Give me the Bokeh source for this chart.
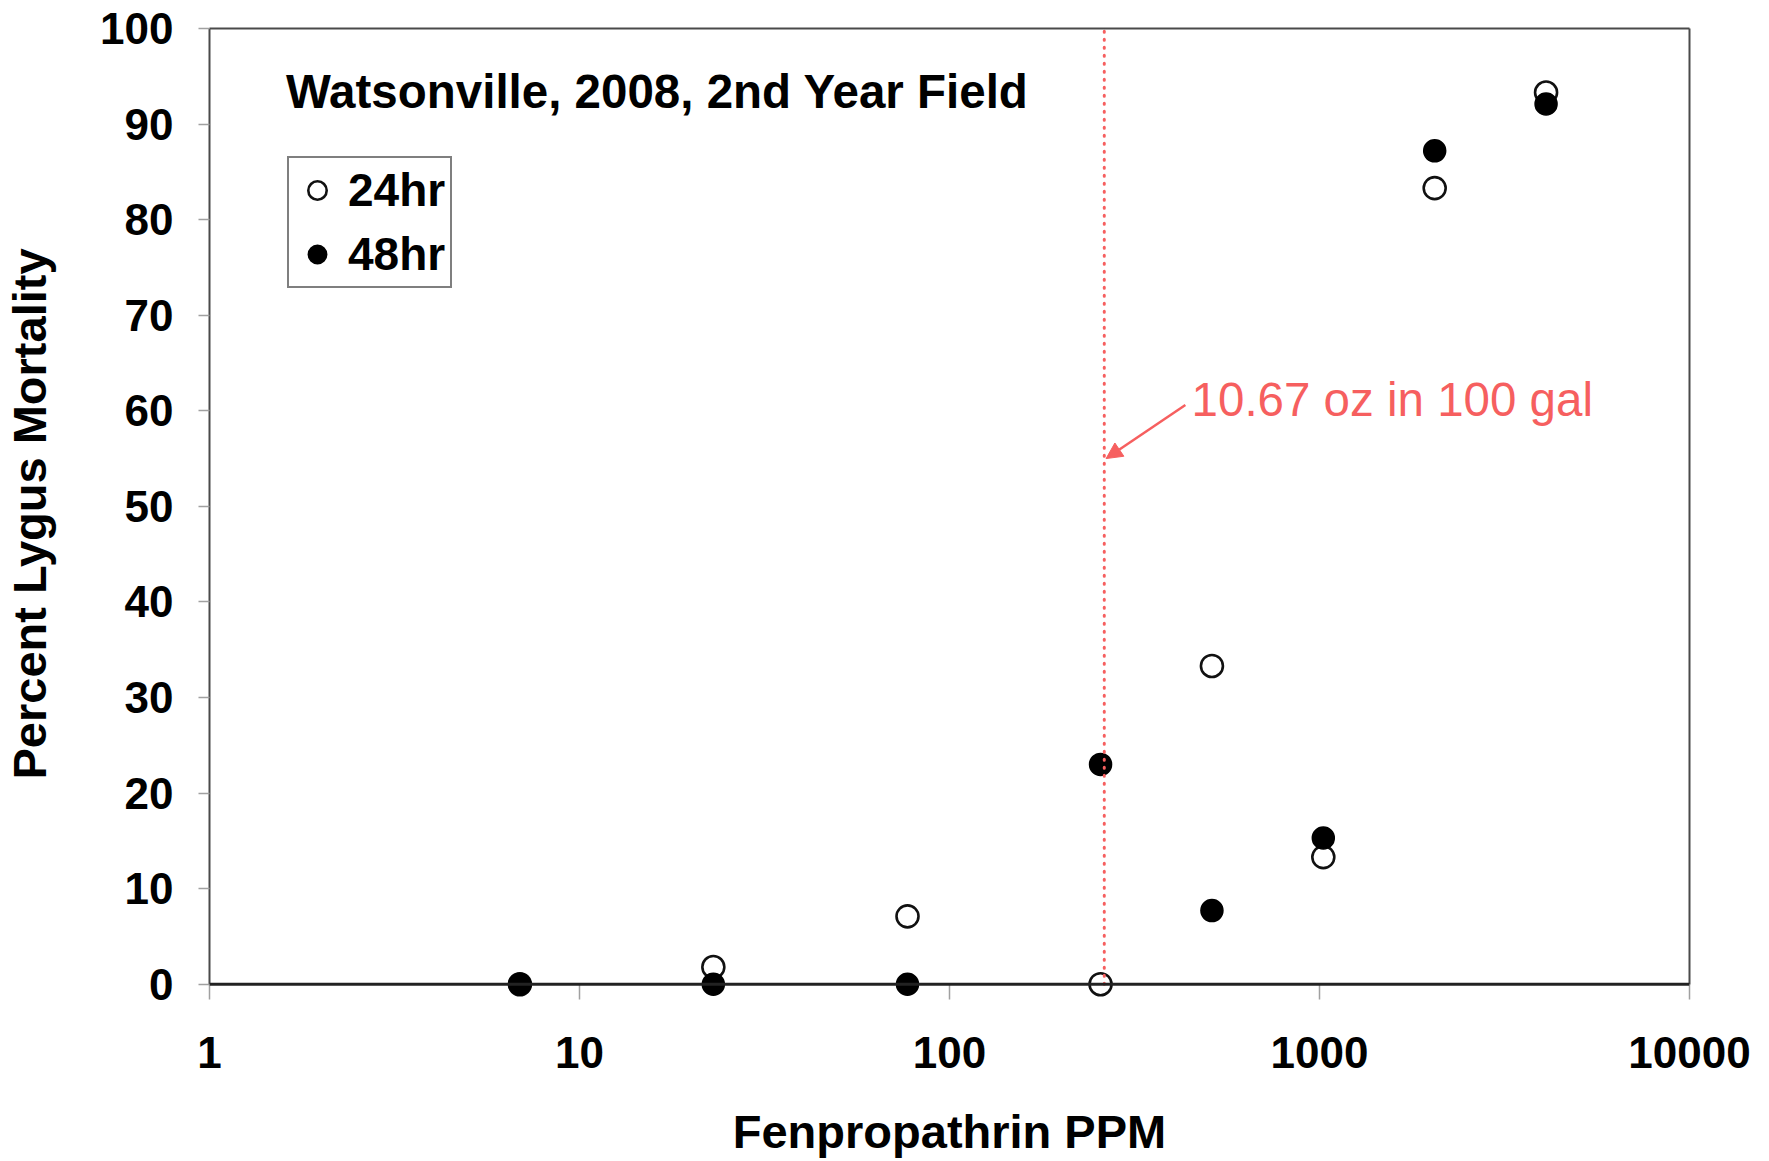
from bokeh.plotting import figure
from bokeh.models import (Range1d, FixedTicker, LinearAxis, LogAxis, Label,
                          Arrow, NormalHead, Legend, LegendItem, Span)
from bokeh.embed import file_html
from bokeh.resources import INLINE

# ---- data ----
ppm_24 = [6.9, 23, 77, 256, 512, 1024, 2048, 4096]
mort_24 = [0, 1.8, 7.1, 0, 33.3, 13.3, 83.3, 93.3]
ppm_48 = [6.9, 23, 77, 256, 512, 1024, 2048, 4096]
mort_48 = [0, 0, 0, 23.0, 7.7, 15.3, 87.2, 92.1]

x_ticks = [1, 10, 100, 1000, 10000]
x_tick_labels = ["1", "10", "100", "1000", "10000"]
y_ticks = [0, 10, 20, 30, 40, 50, 60, 70, 80, 90, 100]

ref_ppm = 262
ref_text = "10.67 oz in 100 gal"
title_text = "Watsonville, 2008, 2nd Year Field"

FONT = "Liberation Sans"
RED = "#f65f5f"
FRAME = "#4a4a4a"
TICK = "#a0a0a0"

p = figure(width=1752, height=1160, x_axis_type="log",
           x_range=Range1d(1, 10000), y_range=Range1d(-1.6, 100),
           output_backend="svg", toolbar_location=None,
           min_border_left=209, min_border_right=63,
           min_border_top=28, min_border_bottom=154)
p.outline_line_color = None
p.grid.visible = False
p.background_fill_color = "white"
p.border_fill_color = "white"

xa = p.xaxis[0]
xa.ticker = FixedTicker(ticks=x_ticks, minor_ticks=[])
xa.major_label_overrides = dict(zip(x_ticks, x_tick_labels))
xa.axis_line_color = None
xa.major_tick_line_color = TICK
xa.major_tick_line_width = 1.5
xa.major_tick_out = 0
xa.major_tick_in = 15
xa.minor_tick_line_color = None
xa.major_label_text_font = FONT
xa.major_label_text_font_style = "bold"
xa.major_label_text_font_size = "44px"
xa.major_label_text_color = "black"
xa.major_label_standoff = 37
xa.axis_label = "Fenpropathrin PPM"
xa.axis_label_text_font = FONT
xa.axis_label_text_font_style = "bold"
xa.axis_label_text_font_size = "47px"
xa.axis_label_text_color = "black"
xa.axis_label_standoff = 34

ya = p.yaxis[0]
ya.ticker = FixedTicker(ticks=y_ticks, minor_ticks=[])
ya.bounds = (0, 100)
ya.axis_line_color = FRAME
ya.axis_line_width = 2
ya.major_tick_line_color = TICK
ya.major_tick_line_width = 1.5
ya.major_tick_out = 11
ya.major_tick_in = 0
ya.minor_tick_line_color = None
ya.major_label_text_font = FONT
ya.major_label_text_font_style = "bold"
ya.major_label_text_font_size = "44px"
ya.major_label_text_color = "black"
ya.major_label_standoff = 25
ya.axis_label = "Percent Lygus Mortality"
ya.axis_label_text_font = FONT
ya.axis_label_text_font_style = "bold"
ya.axis_label_text_font_size = "47px"
ya.axis_label_text_color = "black"
ya.axis_label_standoff = 41

right = LinearAxis(ticker=FixedTicker(ticks=[]), bounds=(0, 100),
                   axis_line_color=FRAME, axis_line_width=2,
                   major_tick_line_color=None, minor_tick_line_color=None,
                   major_label_text_font_size="0px")
p.add_layout(right, "right")
top = LogAxis(ticker=FixedTicker(ticks=[]),
              axis_line_color=FRAME, axis_line_width=2,
              major_tick_line_color=None, minor_tick_line_color=None,
              major_label_text_font_size="0px")
p.add_layout(top, "above")

# baseline (x axis line) at y = 0
p.add_layout(Span(location=0, dimension="width", line_color="#222222",
                  line_width=3))

r24 = p.scatter(ppm_24, mort_24, marker="circle", size=22,
                fill_color="white", line_color="#111111", line_width=2.6)
r48 = p.scatter(ppm_48, mort_48, marker="circle", size=22,
                fill_color="black", line_color="black", line_width=1.5)

p.segment(x0=[ref_ppm], y0=[0], x1=[ref_ppm], y1=[100],
          line_color=RED, line_width=3, line_dash="1 7", line_cap="round")

p.add_layout(Arrow(end=NormalHead(size=16, fill_color=RED, line_color=RED),
                   x_start=434, y_start=60.6, x_end=265, y_end=55.0,
                   line_color=RED, line_width=2.5))
p.add_layout(Label(x=451, y=61.2, text=ref_text, text_font=FONT,
                   text_font_size="47.5px", text_color=RED,
                   text_baseline="middle"))
p.add_layout(Label(x=1.61, y=93.4, text=title_text, text_font=FONT,
                   text_font_style="bold", text_font_size="47.5px",
                   text_color="black", text_baseline="middle"))

legend = Legend(items=[LegendItem(label="24hr", renderers=[r24]),
                       LegendItem(label="48hr", renderers=[r48])],
                location=(78, 711))
legend.label_text_font = FONT
legend.label_text_font_style = "bold"
legend.label_text_font_size = "46px"
legend.label_text_color = "black"
legend.border_line_color = "black"
legend.border_line_width = 2
legend.background_fill_color = "white"
legend.background_fill_alpha = 1
legend.padding = 5
legend.spacing = 10
legend.glyph_width = 46
legend.glyph_height = 54
legend.label_height = 54
legend.label_standoff = 8
legend.margin = 0
p.add_layout(legend)

open("out.html", "w").write(file_html(p, INLINE))
